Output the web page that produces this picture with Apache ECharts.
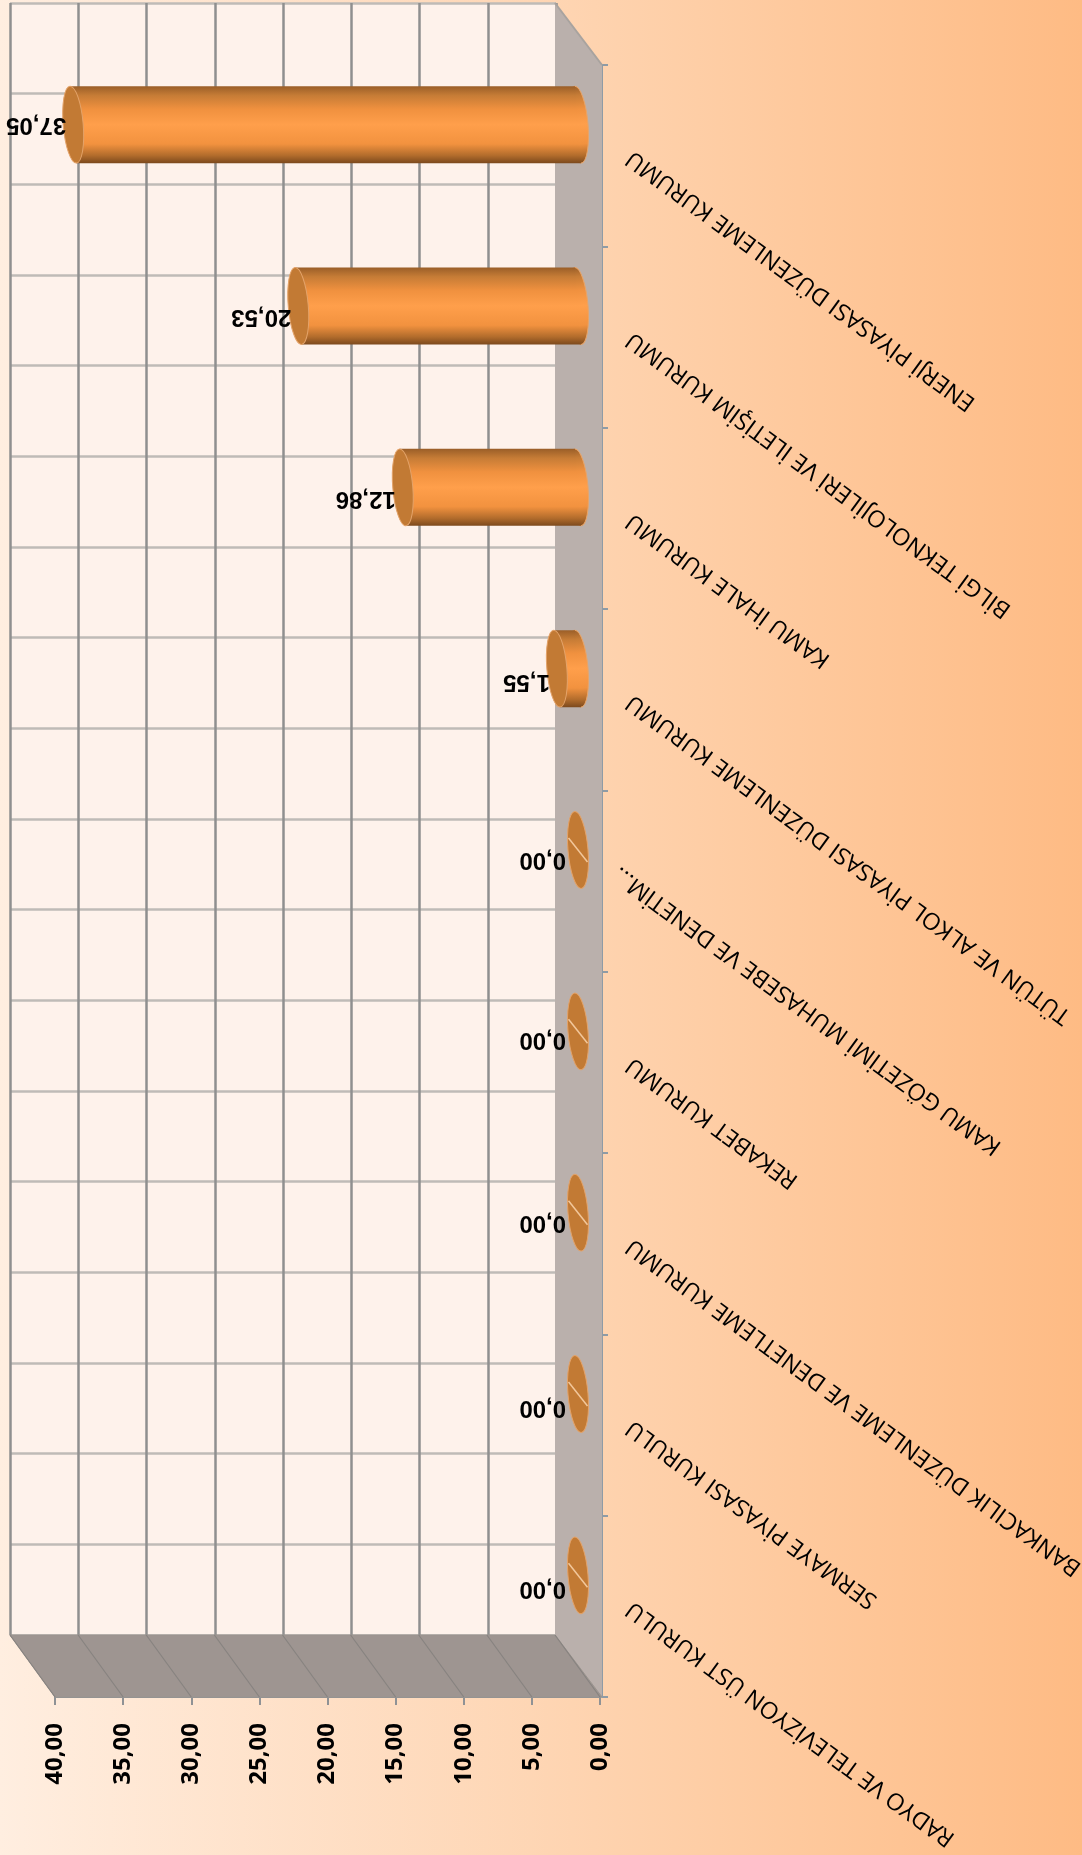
<!DOCTYPE html>
<html><head><meta charset="utf-8">
<style>html,body{margin:0;padding:0}#c{width:1082px;height:1855px}</style>
<script src="https://cdn.jsdelivr.net/npm/echarts@6/dist/echarts.min.js"></script>
</head><body><div id="c"></div>
<script>
const categories = [
  'ENERJİ PİYASASI DÜZENLEME KURUMU',
  'BİLGİ TEKNOLOJİLERİ VE İLETİŞİM KURUMU',
  'KAMU İHALE KURUMU',
  'TÜTÜN VE ALKOL PİYASASI DÜZENLEME KURUMU',
  'KAMU GÖZETİMİ MUHASEBE VE DENETİM...',
  'REKABET KURUMU',
  'BANKACILIK DÜZENLEME VE DENETLEME KURUMU',
  'SERMAYE PİYASASI KURULU',
  'RADYO VE TELEVİZYON ÜST KURULU'
];
const values = [37.05, 20.53, 12.86, 1.55, 0, 0, 0, 0, 0];
const valueTicks = [0, 5, 10, 15, 20, 25, 30, 35, 40];
const labelNudgeY = [0, 11, 11, 13, 10, 8, 10, 14, 13];

const fmt = v => v.toFixed(2).replace('.', ',');
const DEPTH_X = 45, DEPTH_Y = 62;
const chart = echarts.init(document.getElementById('c'), null, {renderer:'canvas'});
const hiddenAxis = {axisLine:{show:false},axisTick:{show:false},axisLabel:{show:false}};
const LabelFont = 'Liberation Sans';

function walls(params, api){
  const r = params.coordSys;
  const L=r.x, R=r.x+r.width, T=r.y, B=r.y+r.height;
  const ch=[
    {type:'polygon',shape:{points:[[R-DEPTH_X,T-DEPTH_Y],[R+2,T],[R+2,B],[R-DEPTH_X,B-DEPTH_Y]]},
      style:{fill:'#bab0ac'}},
    {type:'line',shape:{x1:R-DEPTH_X,y1:T-DEPTH_Y,x2:R+2,y2:T},style:{stroke:'#a8a39f',lineWidth:2}},
    {type:'polygon',shape:{points:[[L-DEPTH_X,B-DEPTH_Y],[R-DEPTH_X,B-DEPTH_Y],[R+2,B],[L,B]]},
      style:{fill:'#9e9591',stroke:'#9a9490',lineWidth:1}}
  ];
  valueTicks.forEach(v=>{
    const x=api.coord([v,0])[0];
    ch.push({type:'line',shape:{x1:x-DEPTH_X,y1:B-DEPTH_Y,x2:x,y2:B},style:{stroke:'#878380',lineWidth:1.2}});
  });
  return {type:'group',children:ch};
}
function bars(params, api){
  const v=api.value(0), i=api.value(1);
  const p0=api.coord([0,i]), p1=api.coord([v,i]);
  const h=api.size([0,1])[1]*0.2125;
  const rx=10, tilt=3, rot=0.085;
  const y=p0[1]-DEPTH_Y/2, xb=p0[0]-22, xc=p1[0]-22;
  const ch=[];
  const grad=new echarts.graphic.LinearGradient(0,0,0,1,[
    {offset:0,color:'#9a5e28'},{offset:.12,color:'#c67c36'},{offset:.3,color:'#f0913f'},
    {offset:.5,color:'#ff9f4b'},{offset:.75,color:'#f2923f'},{offset:.9,color:'#b26c2c'},{offset:1,color:'#7c491d'}]);
  if(v>0){
    ch.push({type:'ellipse',shape:{cx:0,cy:0,rx,ry:h},x:xb,y,rotation:rot,style:{fill:grad,stroke:'#e8a468',lineWidth:1}});
    ch.push({type:'polygon',shape:{points:[[xc-tilt,y-h],[xb-tilt,y-h],[xb+tilt,y+h],[xc+tilt,y+h]]},style:{fill:grad}});
  }
  ch.push({type:'ellipse',shape:{cx:0,cy:0,rx,ry:h},x:xc,y,rotation:rot,style:{fill:'#c27a34',stroke:'#e3a36a',lineWidth:1}});
  if(v===0) ch.push({type:'line',shape:{x1:xc-9.5,y1:y-12,x2:xc+9.5,y2:y+12},style:{stroke:'#f2c79b',lineWidth:1.5}});
  ch.push({type:'text',x:xc-rx+(v===0?-2:3),y:y+labelNudgeY[i],rotation:Math.PI,
    style:{text:fmt(v),align:'left',verticalAlign:'middle',fontFamily:LabelFont,fontWeight:'bold',fontSize:24,fill:'#000'}});
  return {type:'group',children:ch};
}
chart.setOption({
  animation:false,
  backgroundColor:new echarts.graphic.LinearGradient(0,0,1,0,[
    {offset:0,color:'#ffeee0'},{offset:.55,color:'#fed3af'},{offset:1,color:'#febb84'}]),
  grid:[
    {left:55,width:545,top:65,height:1632,outerBoundsMode:'none'},
    {left:10,width:546,top:3,height:1632,show:true,backgroundColor:'#fef2eb',borderWidth:0,outerBoundsMode:'none'}
  ],
  xAxis:[
    {gridIndex:0,type:'value',min:0,max:40,interval:5,inverse:true,splitLine:{show:false},
     axisLine:{show:true,onZero:false,lineStyle:{color:'#8f9295',width:2}},
     axisTick:{show:true,length:8,lineStyle:{color:'#8f9295',width:2}},
     axisLabel:{rotate:90,margin:26,align:'right',verticalAlign:'middle',color:'#000',fontWeight:'bold',fontSize:24,
       fontFamily:'Open Sans',formatter:v=>fmt(v)}},
    Object.assign({gridIndex:1,type:'value',min:0,max:40,interval:5,inverse:true,
     splitLine:{show:true,lineStyle:{color:'#8f8f8f',width:2.5}}},hiddenAxis)
  ],
  yAxis:[
    {gridIndex:0,type:'category',
     data:categories.map(c=>c.endsWith('...')?{value:c,textStyle:{padding:[0,-16,0,0]}}:c),
     inverse:true,position:'right',offset:2,
     splitLine:{show:false},
     axisLine:{show:true,onZero:false,lineStyle:{color:'#8f9ba5',width:2}},
     axisTick:{show:true,length:6,alignWithLabel:false,lineStyle:{color:'#8f9ba5',width:2}},
     axisLabel:{interval:0,rotate:144,margin:27,align:'right',verticalAlign:'middle',color:'#000',fontSize:23.5,
       fontFamily:'Open Sans'}},
    Object.assign({gridIndex:1,type:'value',min:0,max:18,interval:1,inverse:true,
     splitLine:{show:true,lineStyle:{color:'#bfbbb7',width:2.5}}},hiddenAxis)
  ],
  series:[
    {type:'custom',xAxisIndex:0,yAxisIndex:0,z:1,renderItem:walls,data:[[0,0]],encode:{x:0,y:1},silent:true,clip:false},
    {type:'custom',xAxisIndex:0,yAxisIndex:0,z:5,renderItem:bars,clip:false,
     data:values.map((v,i)=>[v,i]),encode:{x:0,y:1}}
  ]
});
</script></body></html>
